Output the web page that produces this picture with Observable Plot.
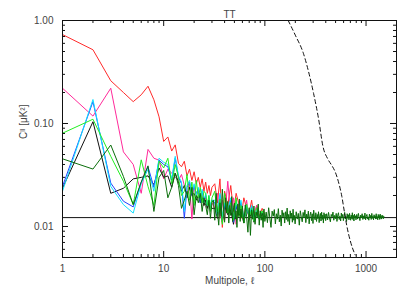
<!DOCTYPE html>
<html><head><meta charset="utf-8">
<script src="https://cdn.jsdelivr.net/npm/d3@7"></script>
<script src="https://cdn.jsdelivr.net/npm/@observablehq/plot@0.6"></script>
<style>body{margin:0;background:#fff}</style>
</head><body><div id="chart"></div>
<script>
// Multipoles
const ellLow = [1,2,3,4,5,6,7,8,9,10,11,12,13,14,15,16,17,18,19,20,21,22,23,24,25,26,27,28,29,30];
const ellMid = [32,34,36,38,40,43,46,49,52,55,58,62,66,70,74,78,83,88,94,100];
const ellHigh = [31,32,33,34,35,36,37,38,39,40,41,42,43,44,45,46,47,48,49,50,51,52,53,54,55,56,57,58,59,60,
  62,64,66,68,70,72,74,76,78,80,82,84,86,88,90,92,94,96,98,100,
  103,106,109,112,115,118,121,124,127,130,133,136,139,142,145,148,151,154,157,160,163,166,169,172,175,178,181,184,187,190,193,196,199,
  204,209,214,219,224,229,234,239,244,249,254,259,264,269,274,279,284,289,294,299,304,309,314,319,324,329,334,339,344,349,354,359,364,369,374,379,384,389,394,399,
  408,417,426,435,444,453,462,471,480,489,498,507,516,525,534,543,552,561,570,579,588,597,606,615,624,633,642,651,660,669,678,687,696,705,714,723,732,741,750,759,768,777,786,795,
  810,825,840,855,870,885,900,915,930,945,960,975,990,1005,1020,1035,1050,1065,1080,1095,1110,1125,1140,1155,1170,1185,1200,1215,1230,1245,1260,1275,1290,1305,1320,1335,1350,1365,1380,1395,1410,1425,1440,1455,1470,1485,1500];

// Spectra (μK²)
const redLow   = [0.73,0.52,0.26,0.20,0.163,0.19,0.23,0.17,0.116,0.067,0.074,0.054,0.062,0.041,0.038,0.043,0.031,0.036,0.028,0.034,0.026,0.030,0.024,0.029,0.022,0.027,0.021,0.025,0.020,0.024];
const redMid   = [0.026,0.017,0.029,0.0098,0.022,0.016,0.025,0.014,0.021,0.017,0.012,0.019,0.015,0.0135,0.018,0.012,0.016,0.0125,0.015,0.013];
const pinkLow  = [0.22,0.118,0.22,0.053,0.040,0.021,0.056,0.046,0.044,0.029,0.036,0.033,0.030,0.028,0.032,0.025,0.021,0.026,0.0118,0.024,0.020,0.022,0.018,0.020,0.016,0.019,0.015,0.018,0.016,0.017];
const pinkMid  = [0.015,0.021,0.012,0.018,0.0115,0.0275,0.013,0.019,0.0105,0.017,0.014,0.012,0.018,0.0115,0.015,0.013,0.016,0.012,0.014,0.0125];
const blackLow = [0.0235,0.104,0.021,0.0235,0.029,0.030,0.031,0.0255,0.037,0.030,0.031,0.024,0.033,0.027,0.022,0.025,0.019,0.024,0.020,0.021,0.018,0.020,0.017,0.019,0.016,0.018,0.015,0.017,0.016,0.015];
const blackMid = [0.015,0.012,0.018,0.011,0.016,0.013,0.0145,0.0105,0.016,0.0125,0.014,0.0108,0.0155,0.012,0.0135,0.011,0.014,0.0118,0.0132,0.012];
const blueLow  = [0.0245,0.163,0.0264,0.0176,0.0155,0.027,0.038,0.024,0.044,0.040,0.038,0.028,0.046,0.030,0.026,0.012,0.024,0.027,0.020,0.025,0.021,0.023,0.017,0.022,0.018,0.020,0.016,0.019,0.015,0.018];
const blueMid  = [0.017,0.0125,0.02,0.0115,0.0165,0.014,0.018,0.011,0.016,0.0135,0.017,0.0115,0.015,0.0125,0.0155,0.0115,0.014,0.012,0.0138,0.0122];
const cyanLow  = [0.022,0.171,0.0245,0.0163,0.0135,0.026,0.036,0.022,0.046,0.042,0.040,0.029,0.048,0.031,0.027,0.014,0.025,0.028,0.021,0.026,0.020,0.024,0.018,0.023,0.017,0.021,0.016,0.020,0.016,0.018];
const cyanMid  = [0.018,0.0135,0.021,0.0125,0.017,0.0145,0.019,0.012,0.0175,0.014,0.018,0.0118,0.016,0.013,0.016,0.012,0.0148,0.0122,0.014,0.0128];
const limeLow  = [0.0805,0.11,0.048,0.0275,0.0163,0.0444,0.0245,0.016,0.043,0.037,0.046,0.026,0.040,0.030,0.020,0.022,0.032,0.018,0.027,0.016,0.028,0.019,0.024,0.017,0.022,0.021,0.016,0.020,0.014,0.019];
const limeMid  = [0.022,0.0125,0.0185,0.0105,0.021,0.0135,0.017,0.0115,0.019,0.0125,0.016,0.0108,0.0165,0.012,0.015,0.0112,0.0152,0.0118,0.0142,0.012];
const dgreenLow  = [0.0454,0.0361,0.0618,0.0306,0.0163,0.027,0.0388,0.014,0.030,0.035,0.019,0.024,0.033,0.025,0.015,0.018,0.022,0.016,0.024,0.013,0.020,0.017,0.021,0.014,0.019,0.016,0.013,0.018,0.012,0.017];
const dgreenHigh = [0.018,0.0115,0.021,0.014,0.0103,0.017,0.0125,0.023,0.0145,0.011,0.019,0.0135,0.0175,0.0108,0.016,0.0128,0.0195,0.0112,0.0152,0.0168,0.0118,0.0142,0.0098,0.0165,0.0128,0.0185,0.0112,0.0148,0.0122,0.0158,
  0.0108,0.0162,0.0125,0.0088,0.0152,0.0082,0.0145,0.0118,0.0158,0.0105,0.0138,0.0122,0.0165,0.0103,0.0142,0.0115,0.0135,0.0098,0.0148,0.0112,
  0.0138,0.0109,0.0152,0.0121,0.0098,0.0141,0.0126,0.0146,0.0106,0.0133,0.0118,0.0149,0.0111,0.0129,0.0101,0.0144,0.0123,0.0136,0.0108,0.0139,0.0117,0.0151,0.0112,0.0131,0.0104,0.0142,0.012,0.0135,0.011,0.0147,0.0115,0.0128,0.0106,
  0.0139,0.0118,0.0134,0.0103,0.0142,0.0124,0.0111,0.0137,0.0121,0.0145,0.0109,0.0132,0.0119,0.0141,0.0106,0.0128,0.0138,0.0114,0.0133,0.0107,0.0144,0.0122,0.0116,0.0136,0.0112,0.0131,0.0119,0.0139,0.0109,0.0127,0.0134,0.0113,0.0138,0.0117,0.0129,0.0108,0.0136,0.012,0.0132,0.0114,
  0.0133,0.0116,0.0137,0.0121,0.0111,0.0131,0.0124,0.0138,0.0115,0.0128,0.0119,0.0134,0.0112,0.0129,0.0136,0.0117,0.0126,0.0113,0.0135,0.0121,0.0131,0.0114,0.0127,0.0137,0.0118,0.0125,0.0112,0.0133,0.012,0.013,0.0116,0.0134,0.0123,0.0115,0.0129,0.0119,0.0136,0.0117,0.0128,0.0113,0.0132,0.0121,0.0127,0.0116,
  0.0131,0.0118,0.0134,0.0122,0.0114,0.0129,0.0121,0.0133,0.0117,0.0127,0.0119,0.0135,0.0116,0.0126,0.0131,0.0118,0.0124,0.0115,0.0132,0.0121,0.0128,0.0117,0.0134,0.012,0.0126,0.0116,0.013,0.0122,0.0127,0.0118,0.0133,0.0119,0.0125,0.0116,0.0131,0.0121,0.0128,0.0117,0.0132,0.012,0.0126,0.0118,0.0129,0.0122,0.0127,0.0119,0.0125];

// Beam / noise curve (dashed)
const beamEll = [170,200,241,270,303,340,375,420,460,495,540,577,610,646,700,780];
const beamCl  = [1.0,0.72,0.476,0.32,0.196,0.11,0.06,0.045,0.039,0.034,0.026,0.0195,0.014,0.0101,0.0072,0.0053];

const noiseLevel = [0.0122];

const xMajor = [1,10,100,1000];
const xMinor = [2,3,4,5,6,7,8,9,20,30,40,50,60,70,80,90,200,300,400,500,600,700,800,900];
const yMajor = [0.01,0.1,1];
const yMinor = [0.005,0.006,0.007,0.008,0.009,0.02,0.03,0.04,0.05,0.06,0.07,0.08,0.09,0.2,0.3,0.4,0.5,0.6,0.7,0.8,0.9];

const series = [
  {color:"#ff2a2a", ell:ellLow.concat(ellMid), v:redLow.concat(redMid)},
  {color:"#ff2a9a", ell:ellLow.concat(ellMid), v:pinkLow.concat(pinkMid)},
  {color:"#111111", ell:ellLow.concat(ellMid), v:blackLow.concat(blackMid)},
  {color:"#2040ff", ell:ellLow.concat(ellMid), v:blueLow.concat(blueMid)},
  {color:"#10e0ff", ell:ellLow.concat(ellMid), v:cyanLow.concat(cyanMid)},
  {color:"#22ee22", ell:ellLow.concat(ellMid), v:limeLow.concat(limeMid)},
  {color:"#0b6e0b", ell:ellLow.concat(ellHigh), v:dgreenLow.concat(dgreenHigh)}
];

const frameH = 237, frameW = 334, majL = 6, minL = 3;
const lineMarks = series.map(s => {
  const n = Math.min(s.ell.length, s.v.length);
  const rows = s.ell.slice(0, n).map((e,i)=>({ell:e, v:s.v[i]}));
  return Plot.line(rows, {x:"ell", y:"v", stroke:s.color, strokeWidth:1, clip:true});
});
const beam = beamEll.map((e,i)=>({ell:e, v:beamCl[i]}));

const chart = Plot.plot({
  width: 415, height: 297,
  marginLeft: 62, marginRight: 19, marginTop: 20, marginBottom: 40,
  style: {fontFamily: "'Liberation Sans', Arial, sans-serif", fontSize: "10px", color: "#444", background: "#fff"},
  x: {type: "log", domain: [1, 2000]},
  y: {type: "log", domain: [0.005, 1]},
  marks: [
    Plot.ruleY(noiseLevel, {y: d=>d, stroke: "#111", strokeWidth: 1}),
    ...lineMarks,
    Plot.line(beam, {x:"ell", y:"v", stroke:"#111", strokeWidth:1, strokeDasharray:"4,3", curve:"monotone-x", clip:true}),
    // inward ticks on all four sides
    Plot.ruleX(xMajor, {x:d=>d, insetTop: frameH-majL, stroke:"#111"}),
    Plot.ruleX(xMinor, {x:d=>d, insetTop: frameH-minL, stroke:"#111"}),
    Plot.ruleX(xMajor, {x:d=>d, insetBottom: frameH-majL, stroke:"#111"}),
    Plot.ruleX(xMinor, {x:d=>d, insetBottom: frameH-minL, stroke:"#111"}),
    Plot.ruleY(yMajor, {y:d=>d, insetRight: frameW-majL, stroke:"#111"}),
    Plot.ruleY(yMinor, {y:d=>d, insetRight: frameW-minL, stroke:"#111"}),
    Plot.ruleY(yMajor, {y:d=>d, insetLeft: frameW-majL, stroke:"#111"}),
    Plot.ruleY(yMinor, {y:d=>d, insetLeft: frameW-minL, stroke:"#111"}),
    Plot.frame({stroke:"#111", strokeWidth:1}),
    Plot.axisX(xMajor, {anchor:"bottom", tickSize:0, tickPadding:7, tickFormat:d=>String(d), label:null, fill:"#444"}),
    Plot.axisY(yMajor, {anchor:"left", tickSize:0, tickPadding:9, tickFormat:d=>d.toFixed(2), label:null, fill:"#444"}),
    Plot.text(["TT"], {frameAnchor:"top", dy:-10, fill:"#444", fontSize:10}),
    Plot.text(["Multipole, ℓ"], {frameAnchor:"bottom", dy:26, fill:"#444", fontSize:10}),
    Plot.text(["Cˡˡ [μK²]"], {frameAnchor:"left", dx:-39, rotate:-90, fill:"#444", fontSize:10})
  ]
});
document.getElementById("chart").appendChild(chart);
</script>
</body></html>
